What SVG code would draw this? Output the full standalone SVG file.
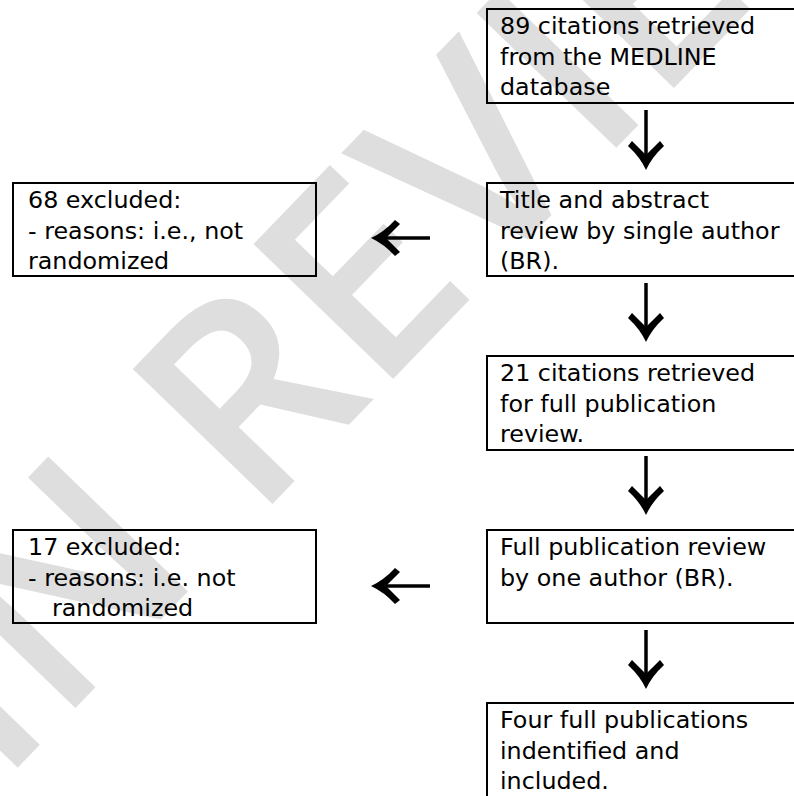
<svg xmlns="http://www.w3.org/2000/svg" xmlns:xlink="http://www.w3.org/1999/xlink" width="794" height="796" viewBox="0 0 794 796">
  <style>
    .box { fill: none; stroke: #000; stroke-width: 2; }
    .t { font-family: "DejaVu Sans", "Liberation Sans", sans-serif; font-size: 23.8px; fill: #000; }
    .wm { font-family: "Open Sans", "DejaVu Sans", sans-serif; font-size: 272px; font-weight: 600; fill: #dedede; }
    .shaft { stroke: #000; stroke-width: 3.5; fill: none; }
    .head { fill: #000; }
  </style>
  <defs>
    <path id="head" d="M0,0 Q-6,-13 -18,-24 L-14,-29 Q-6,-21 0,-15 Q6,-21 14,-29 L18,-24 Q6,-13 0,0 Z"/>
  </defs>
  <rect width="794" height="796" fill="#fff"/>
  <g id="watermark">
    <text class="wm" x="0" y="786" transform="rotate(-46 0 786)">IN REVIEW</text>
  </g>
  <g id="connectors">
    <line class="shaft" x1="646" y1="110" x2="646" y2="157"/>
    <use href="#head" class="head" transform="translate(646,170)"/>
    <line class="shaft" x1="646" y1="283" x2="646" y2="329"/>
    <use href="#head" class="head" transform="translate(646,342)"/>
    <line class="shaft" x1="646" y1="456" x2="646" y2="502"/>
    <use href="#head" class="head" transform="translate(646,515)"/>
    <line class="shaft" x1="646" y1="630" x2="646" y2="676"/>
    <use href="#head" class="head" transform="translate(646,689)"/>
    <line class="shaft" x1="430" y1="238" x2="384" y2="238"/>
    <use href="#head" class="head" transform="translate(371,238) rotate(90)"/>
    <line class="shaft" x1="430" y1="586" x2="384" y2="586"/>
    <use href="#head" class="head" transform="translate(371,586) rotate(90)"/>
  </g>
  <g id="n1">
    <rect class="box" x="487" y="9" width="320" height="94"/>
    <text class="t" x="500" y="34">89 citations retrieved</text>
    <text class="t" x="500" y="64.5">from the MEDLINE</text>
    <text class="t" x="500" y="95">database</text>
  </g>
  <g id="n2">
    <rect class="box" x="487" y="183" width="320" height="93"/>
    <text class="t" x="500" y="208">Title and abstract</text>
    <text class="t" x="500" y="238.5">review by single author</text>
    <text class="t" x="500" y="269">(BR).</text>
  </g>
  <g id="n3">
    <rect class="box" x="487" y="356" width="320" height="94"/>
    <text class="t" x="500" y="381">21 citations retrieved</text>
    <text class="t" x="500" y="411.5">for full publication</text>
    <text class="t" x="500" y="442">review.</text>
  </g>
  <g id="n4">
    <rect class="box" x="487" y="530" width="320" height="93"/>
    <text class="t" x="500" y="555">Full publication review</text>
    <text class="t" x="500" y="585.5">by one author (BR).</text>
  </g>
  <g id="n5">
    <rect class="box" x="487" y="703" width="320" height="120"/>
    <text class="t" x="500" y="728">Four full publications</text>
    <text class="t" x="500" y="758.5">indentified and</text>
    <text class="t" x="500" y="789">included.</text>
  </g>
  <g id="x1">
    <rect class="box" x="13" y="183" width="303" height="93"/>
    <text class="t" x="28" y="208">68 excluded:</text>
    <text class="t" x="28" y="238.5">- reasons: i.e., not</text>
    <text class="t" x="28" y="269">randomized</text>
  </g>
  <g id="x2">
    <rect class="box" x="13" y="530" width="303" height="93"/>
    <text class="t" x="28" y="555">17 excluded:</text>
    <text class="t" x="28" y="585.5">- reasons: i.e. not</text>
    <text class="t" x="52" y="616">randomized</text>
  </g>
</svg>
